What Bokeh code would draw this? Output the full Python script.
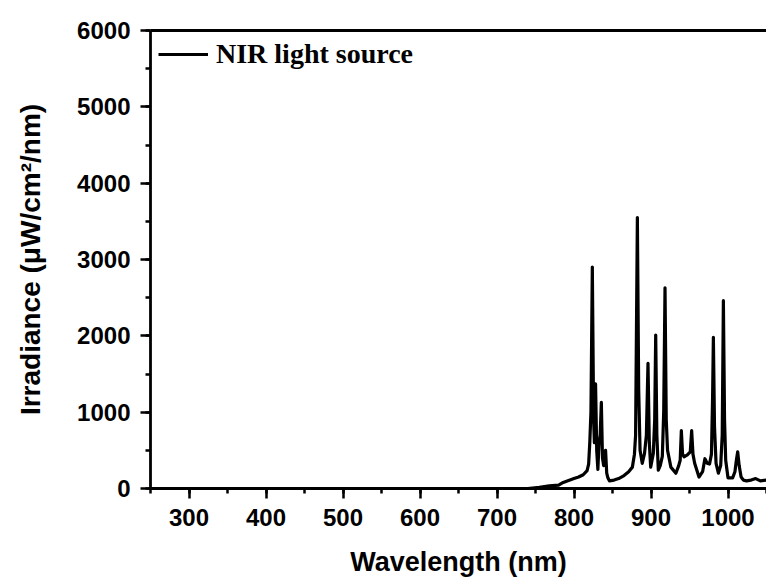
from bokeh.plotting import figure
from bokeh.models import Range1d, SingleIntervalTicker, LinearAxis, Legend, LegendItem
from bokeh.embed import file_html
from bokeh.resources import INLINE

# Spectrum
wavelength = [250, 740, 755, 768, 780, 786, 793, 800, 806, 812,
              817, 819, 820.5, 822, 823.8, 825.5, 826.5, 828, 829.5, 831,
              832.5, 834, 835.5, 837, 838.5, 839.5, 841, 842.5, 844, 846,
              852, 858, 865, 871, 875.8, 878.5, 880, 882.3, 884, 885.8,
              888.6, 891.6, 894, 896.1, 897.8, 899.6, 903, 904.8, 906.1, 907.6,
              909.5, 912, 914.7, 916.5, 918.2, 919.8, 921.5, 925.8, 932.3, 936,
              937.9, 939.4, 941, 942.9, 947.2, 951, 952.8, 954.5, 956.7, 962.3,
              967, 970, 973, 976, 978.5, 980, 981, 982.5, 984.5, 987.5,
              990.5, 992.5, 994, 995.5, 997, 1000, 1006, 1009, 1011, 1012.6,
              1014.5, 1017, 1020, 1024, 1030, 1036, 1042, 1050]
irradiance = [0, 0, 15, 35, 45, 80, 105, 130, 150, 180,
              235, 320, 600, 1000, 2900, 900, 600, 1370, 500, 250,
              600, 700, 1130, 400, 300, 450, 500, 200, 140, 100,
              110, 130, 170, 220, 280, 450, 700, 3550, 1300, 500,
              330, 460, 700, 1640, 600, 280, 460, 900, 2010, 700,
              240, 300, 420, 1000, 2630, 900, 500, 280, 200, 300,
              370, 760, 450, 415, 440, 480, 760, 450, 330, 150,
              220, 390, 330, 320, 450, 1200, 1980, 800, 330, 200,
              300, 700, 2460, 900, 370, 140, 140, 220, 380, 480,
              300, 150, 110, 100, 110, 130, 100, 110]
series_name = "NIR light source"
x_label = "Wavelength (nm)"
y_label = "Irradiance (\u03bcW/cm\u00b2/nm)"

p = figure(width=766, height=579, output_backend="svg", toolbar_location=None,
           x_range=Range1d(250, 1050), y_range=Range1d(0, 6000),
           min_border_left=150, min_border_right=0, min_border_top=30, min_border_bottom=91,
           x_axis_location="below", y_axis_location="left")
p.outline_line_color = None
p.xgrid.visible = False
p.ygrid.visible = False
p.background_fill_color = "white"
p.border_fill_color = "white"

r = p.line(wavelength, irradiance, line_color="black", line_width=3.2, line_join="round")

xa = p.xaxis[0]
ya = p.yaxis[0]
xa.ticker = SingleIntervalTicker(interval=100, num_minor_ticks=2)
ya.ticker = SingleIntervalTicker(interval=1000, num_minor_ticks=2)
for ax in (xa, ya):
    ax.axis_line_width = 2.8
    ax.axis_line_color = "black"
    ax.major_tick_line_width = 2.5
    ax.minor_tick_line_width = 2.5
    ax.major_tick_line_color = "black"
    ax.minor_tick_line_color = "black"
    ax.major_tick_in = 0
    ax.minor_tick_in = 0
    ax.major_tick_out = 10
    ax.minor_tick_out = 5
    ax.major_label_text_font = "Liberation Sans"
    ax.major_label_text_font_style = "bold"
    ax.major_label_text_font_size = "24px"
    ax.major_label_text_color = "black"
    ax.axis_label_text_font = "Liberation Sans"
    ax.axis_label_text_font_style = "bold"
    ax.axis_label_text_color = "black"
xa.axis_label = x_label
ya.axis_label = y_label
xa.axis_label_text_font_size = "27px"
ya.axis_label_text_font_size = "28px"
xa.major_label_standoff = 10
ya.major_label_standoff = 10
xa.axis_label_standoff = 18
ya.axis_label_standoff = 28

top = LinearAxis(axis_line_width=2.8, axis_line_color="black",
                 major_tick_line_color=None, minor_tick_line_color=None,
                 major_label_text_font_size="0px")
p.add_layout(top, "above")

legend = Legend(items=[LegendItem(label=series_name, renderers=[r])],
                location="top_left", border_line_color=None,
                background_fill_alpha=0, margin=8, padding=4,
                glyph_width=50, glyph_height=26, label_height=26, label_standoff=8,
                label_text_font="Liberation Serif", label_text_font_style="bold",
                label_text_font_size="28px", label_text_color="black")
p.add_layout(legend)

open("out.html", "w").write(file_html(p, INLINE))
